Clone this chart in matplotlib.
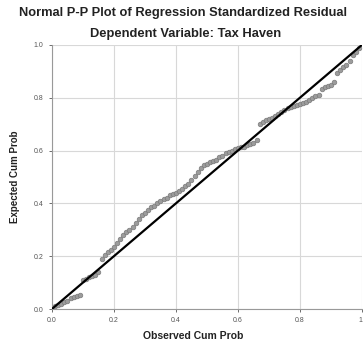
import matplotlib
matplotlib.use("Agg")
import matplotlib.pyplot as plt

plt.rcParams['font.family'] = ['Liberation Sans', 'DejaVu Sans']

# observed vs expected cumulative probabilities
observed = [0.01, 0.02, 0.03, 0.04, 0.05, 0.06, 0.07, 0.08, 0.09, 0.10,
            0.11, 0.12, 0.13, 0.14, 0.15, 0.16, 0.17, 0.18, 0.19, 0.20,
            0.21, 0.22, 0.23, 0.24, 0.25, 0.26, 0.27, 0.28, 0.29, 0.30,
            0.31, 0.32, 0.33, 0.34, 0.35, 0.36, 0.37, 0.38, 0.39, 0.40,
            0.41, 0.42, 0.43, 0.44, 0.45, 0.46, 0.47, 0.48, 0.49, 0.50,
            0.51, 0.52, 0.53, 0.54, 0.55, 0.56, 0.57, 0.58, 0.59, 0.60,
            0.61, 0.62, 0.63, 0.64, 0.65, 0.66, 0.67, 0.68, 0.69, 0.70,
            0.71, 0.72, 0.73, 0.74, 0.75, 0.76, 0.77, 0.78, 0.79, 0.80,
            0.81, 0.82, 0.83, 0.84, 0.85, 0.86, 0.87, 0.88, 0.89, 0.90,
            0.91, 0.92, 0.93, 0.94, 0.95, 0.96, 0.97, 0.98, 0.99]
expected = [0.01, 0.015, 0.02, 0.025, 0.03, 0.04, 0.045, 0.048, 0.052, 0.11,
            0.115, 0.12, 0.125, 0.13, 0.14, 0.19, 0.205, 0.215, 0.225, 0.235,
            0.25, 0.265, 0.28, 0.29, 0.30, 0.31, 0.325, 0.34, 0.355, 0.365,
            0.375, 0.385, 0.39, 0.40, 0.41, 0.415, 0.42, 0.43, 0.435, 0.44,
            0.445, 0.455, 0.465, 0.475, 0.49, 0.505, 0.52, 0.535, 0.545, 0.55,
            0.555, 0.56, 0.565, 0.575, 0.58, 0.59, 0.595, 0.60, 0.605, 0.61,
            0.612, 0.615, 0.62, 0.625, 0.63, 0.64, 0.70, 0.71, 0.715, 0.72,
            0.725, 0.73, 0.738, 0.745, 0.752, 0.76, 0.765, 0.77, 0.772, 0.775,
            0.78, 0.785, 0.79, 0.80, 0.805, 0.81, 0.835, 0.84, 0.845, 0.85,
            0.86, 0.895, 0.905, 0.915, 0.925, 0.94, 0.96, 0.975, 0.99]
ticks = [0.0, 0.2, 0.4, 0.6, 0.8, 1.0]
ytick_labels = ['0.0', '0.2', '0.4', '0.6', '0.8', '1.0']
xtick_labels = ['0.0', '0.2', '0.4', '0.6', '0.8', '1']

fig = plt.figure(figsize=(3.63, 3.47), dpi=100)
ax = fig.add_axes([0.143, 0.1095, 0.854, 0.761])

ax.scatter(observed, expected, s=11, facecolor='#9c9c9c', edgecolor='#7a7a7a',
           linewidth=0.5, zorder=3)
ax.plot([0, 1], [0, 1], color='black', linewidth=1.6, zorder=4)

ax.set_xlim(0, 1)
ax.set_ylim(0, 1)
ax.set_xticks(ticks)
ax.set_xticklabels(xtick_labels)
ax.set_yticks(ticks)
ax.set_yticklabels(ytick_labels)
ax.tick_params(labelsize=5, colors='#555555', length=2.5, width=0.6)
# last x label sits at the right edge; keep it inside the picture
ax.get_xticklabels()[-1].set_horizontalalignment('right')
ax.grid(True, color='#d8d8d8', linewidth=0.8)
ax.set_axisbelow(True)
for side in ['top', 'right']:
    ax.spines[side].set_visible(False)
for side in ['left', 'bottom']:
    ax.spines[side].set_color('#999999')
    ax.spines[side].set_linewidth(0.8)

ax.set_ylabel('Expected Cum Prob', fontsize=7, fontweight='bold', color='#222222', labelpad=10)

fig.text(0.532, 0.032, 'Observed Cum Prob', ha='center', va='center',
         fontsize=7.5, fontweight='bold', color='#222222')
fig.text(0.505, 0.962, 'Normal P-P Plot of Regression Standardized Residual',
         ha='center', va='center', fontsize=9.3, fontweight='bold', color='#222222')
fig.text(0.51, 0.902, 'Dependent Variable: Tax Haven',
         ha='center', va='center', fontsize=9.3, fontweight='bold', color='#222222')

fig.savefig('out.png', dpi=100)
